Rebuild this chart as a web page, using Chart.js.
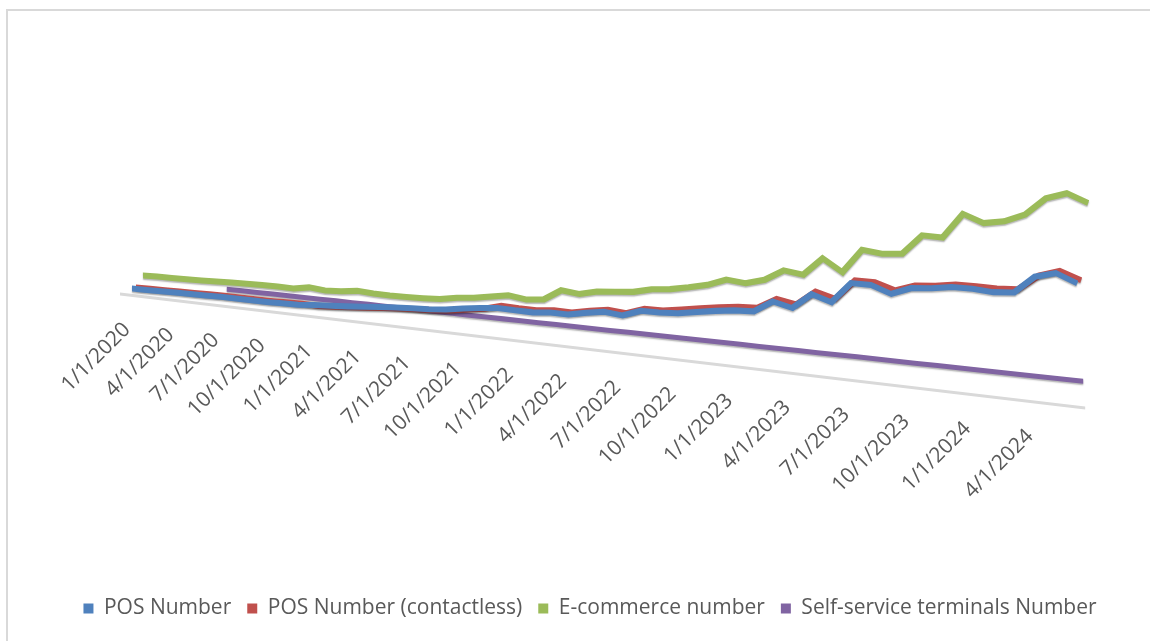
<!DOCTYPE html>
<html>
<head>
<meta charset="utf-8">
<title>Card transactions by channel</title>
<script src="https://cdn.jsdelivr.net/npm/chart.js@4.4.1/dist/chart.umd.min.js"></script>
<style>
    html, body { margin: 0; padding: 0; background: #ffffff; }
</style>
</head>
<body>
<canvas id="chart" width="1150" height="641"></canvas>
<script>
var months = [
    '1/1/2020', '2/1/2020', '3/1/2020', '4/1/2020', '5/1/2020', '6/1/2020',
    '7/1/2020', '8/1/2020', '9/1/2020', '10/1/2020', '11/1/2020', '12/1/2020',
    '1/1/2021', '2/1/2021', '3/1/2021', '4/1/2021', '5/1/2021', '6/1/2021',
    '7/1/2021', '8/1/2021', '9/1/2021', '10/1/2021', '11/1/2021', '12/1/2021',
    '1/1/2022', '2/1/2022', '3/1/2022', '4/1/2022', '5/1/2022', '6/1/2022',
    '7/1/2022', '8/1/2022', '9/1/2022', '10/1/2022', '11/1/2022', '12/1/2022',
    '1/1/2023', '2/1/2023', '3/1/2023', '4/1/2023', '5/1/2023', '6/1/2023',
    '7/1/2023', '8/1/2023', '9/1/2023', '10/1/2023', '11/1/2023', '12/1/2023',
    '1/1/2024', '2/1/2024', '3/1/2024', '4/1/2024', '5/1/2024', '6/1/2024'
];

var posNumber = [
    6.9, 7.1, 7.4, 7.6, 7.9, 8.1, 8.4, 8.3, 8.2, 8.3, 8.6, 9.0,
    10.5, 11.5, 12.6, 14.0, 15.5, 16.8, 18.0, 18.9, 20.4, 23.3, 25.8, 27.7,
    27.2, 27.1, 29.0, 28.8, 32.5, 35.5, 34.0, 40.5, 40.8, 42.3, 45.6, 48.7,
    51.3, 52.4, 64.5, 60.0, 76.0, 70.0, 91.5, 91.7, 85.0, 93.0, 95.0, 98.6,
    99.0, 98.0, 100.0, 118.0, 124.0, 116.0
];

var posContactless = [
    8.4, 8.6, 8.9, 9.1, 9.4, 9.6, 9.9, 9.8, 9.7, 9.8, 10.1, 10.5,
    10.0, 11.0, 12.1, 13.5, 15.0, 16.3, 17.5, 18.4, 19.9, 22.8, 25.3, 30.2,
    29.7, 29.6, 31.5, 31.3, 35.0, 38.0, 36.5, 43.0, 43.3, 46.3, 49.6, 52.7,
    55.3, 56.4, 67.5, 64.0, 79.0, 74.0, 94.5, 95.0, 89.0, 96.0, 98.0, 101.6,
    102.0, 102.0, 103.5, 119.5, 126.5, 119.5
];

var ecommerceNumber = [
    21.0, 21.7, 21.8, 22.1, 22.6, 23.2, 23.8, 24.2, 24.8, 25.0, 24.7, 27.5,
    26.2, 27.2, 29.3, 28.5, 28.4, 28.7, 29.3, 30.2, 33.4, 35.2, 38.5, 41.6,
    39.3, 41.3, 52.4, 50.7, 55.0, 56.7, 58.7, 63.4, 65.5, 69.3, 73.9, 81.2,
    79.6, 85.2, 96.8, 94.5, 113.0, 101.3, 126.0, 124.2, 126.4, 147.0, 147.0, 173.0,
    166.0, 170.0, 179.0, 197.7, 205.0, 197.6
];

var selfServiceNumber = [
    null, null, null, null, null, null,
    16.7, 16.7, 16.8, 16.8, 16.9, 16.9, 16.9, 17.0, 17.0, 17.1, 17.1, 17.1,
    17.2, 17.2, 17.3, 17.3, 17.3, 17.4, 17.4, 17.5, 17.5, 17.6, 17.6, 17.6,
    17.7, 17.7, 17.8, 17.8, 17.9, 17.9, 18.0, 18.0, 18.1, 18.1, 18.2, 18.2,
    18.3, 18.3, 18.3, 18.4, 18.4, 18.5, 18.5, 18.6, 18.7, 18.7, 18.8, 18.8
];

var seriesNames = ['POS Number', 'POS Number (contactless)', 'E-commerce number', 'Self-service terminals Number'];
var seriesColors = ['#4f81bd', '#c0504d', '#9bbb59', '#8064a2'];

var textColor = '#595959';
var fontFamily = '"Open Sans", "Noto Sans", sans-serif';

// category axis whose spacing widens to the right, like a 3-D view seen from the right
class PerspectiveScale extends Chart.CategoryScale {
    static id = 'perspective';
    getPixelForDecimal(decimal) {
        var p = this.options.perspective || 0;
        var inset = this.options.inset || [0, 0];
        var warped = decimal * (1 - p) + p * decimal * decimal;
        return this._startPixel + inset[0] + warped * (this._length - inset[0] - inset[1]);
    }
}
Chart.register(PerspectiveScale);

// tilts the plot (floor edge + lines), shifts series in depth, draws the slanted date labels
var tiltPlugin = {
    id: 'tilt',
    beforeDraw: function(chart) {
        var ctx = chart.ctx;
        ctx.save();
        ctx.strokeStyle = '#d9d9d9';
        ctx.lineWidth = 2;
        ctx.strokeRect(7, 10, chart.width + 20, chart.height + 20);
        ctx.restore();
    },
    beforeDatasetsDraw: function(chart, args, opts) {
        var ctx = chart.ctx, area = chart.chartArea;
        var xScale = chart.scales.x;
        var x0 = xScale.getPixelForDecimal(0);
        var x1 = xScale.getPixelForDecimal(1);

        ctx.save();
        ctx.translate(0, opts.baseline - area.bottom);
        ctx.transform(1, opts.floorSlope, 0, 1, 0, -opts.floorSlope * x0);
        ctx.strokeStyle = '#d9d9d9';
        ctx.lineWidth = 3;
        ctx.beginPath();
        ctx.moveTo(x0 - 12, area.bottom);
        ctx.lineTo(x1 + 8, area.bottom);
        ctx.stroke();
        ctx.restore();

        ctx.save();
        ctx.translate(0, opts.baseline - area.bottom);
        ctx.transform(1, opts.slope, 0, 1, 0, -opts.slope * x0);
    },
    beforeDatasetDraw: function(chart, args) {
        var ctx = chart.ctx;
        var ds = chart.data.datasets[args.index];
        ctx.save();
        ctx.translate(ds.depthShift || 0, 0);
        ctx.shadowColor = 'rgba(0, 0, 0, 0.3)';
        ctx.shadowOffsetY = 1.5;
        ctx.shadowBlur = 1.5;
    },
    afterDatasetDraw: function(chart) {
        chart.ctx.restore();
    },
    afterDatasetsDraw: function(chart) {
        chart.ctx.restore();
    },
    afterDraw: function(chart, args, opts) {
        var ctx = chart.ctx;
        var xScale = chart.scales.x;
        var x0 = xScale.getPixelForDecimal(0);
        ctx.save();
        ctx.font = opts.labelFont;
        ctx.fillStyle = textColor;
        ctx.textAlign = 'right';
        ctx.textBaseline = 'middle';
        for (var i = 0; i < months.length; i += opts.labelStep) {
            var x = xScale.getPixelForValue(i);
            var y = opts.baseline + opts.floorSlope * (x - x0) + opts.labelGap;
            ctx.save();
            ctx.translate(x - 5, y);
            ctx.rotate(-Math.PI / 4);
            ctx.fillText(months[i], 0, 0);
            ctx.restore();
        }
        ctx.restore();
    }
};

function makeDataset(index, values, width, shift) {
    return {
        label: seriesNames[index],
        data: values,
        borderColor: seriesColors[index],
        backgroundColor: seriesColors[index],
        borderWidth: width,
        pointRadius: 0,
        tension: 0,
        clip: false,
        spanGaps: false,
        depthShift: shift
    };
}

var ctx = document.getElementById('chart').getContext('2d');

var chart = new Chart(ctx, {
    type: 'line',
    data: {
        labels: months,
        datasets: [
            makeDataset(0, posNumber, 6, 0),
            makeDataset(1, posContactless, 6, 4),
            makeDataset(2, ecommerceNumber, 6, 11),
            makeDataset(3, selfServiceNumber, 5, 6)
        ]
    },
    options: {
        responsive: false,
        devicePixelRatio: 1,
        animation: false,
        layout: {
            padding: { top: 82, left: 30, right: 0, bottom: 12 }
        },
        scales: {
            x: {
                type: 'perspective',
                perspective: 0.192,
                inset: [102, 72.8],
                display: false,
                offset: false
            },
            y: {
                display: false,
                min: 0,
                max: 500
            }
        },
        plugins: {
            tilt: {
                baseline: 295.4,
                slope: 0.110,
                floorSlope: 0.118,
                labelStep: 3,
                labelGap: 31,
                labelFont: '21px "Open Sans", "Noto Sans", sans-serif'
            },
            legend: {
                display: true,
                position: 'bottom',
                labels: {
                    color: textColor,
                    font: { family: fontFamily, size: 21 },
                    boxWidth: 10,
                    boxHeight: 10,
                    padding: 16,
                    generateLabels: function(chart) {
                        return Chart.defaults.plugins.legend.labels.generateLabels(chart).map(function(item) {
                            item.lineWidth = 0;
                            return item;
                        });
                    }
                }
            },
            tooltip: { enabled: false }
        }
    },
    plugins: [tiltPlugin]
});
</script>
</body>
</html>
